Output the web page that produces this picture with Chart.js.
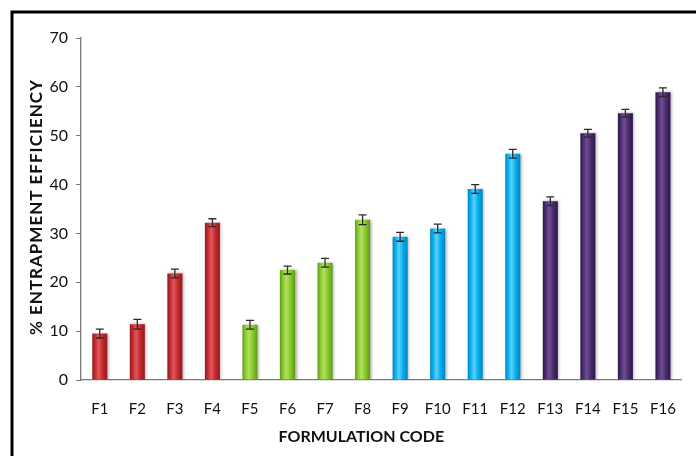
<!DOCTYPE html>
<html>
<head>
<meta charset="utf-8">
<script src="https://cdn.jsdelivr.net/npm/chart.js@4.4.1/dist/chart.umd.min.js"></script>
<style>
  html, body { margin: 0; padding: 0; background: #fff; }
  #wrap { position: relative; width: 696px; height: 456px; }
  canvas { display: block; }
</style>
</head>
<body>
<div id="wrap"><canvas id="chart" width="696" height="456"></canvas></div>
<script>
// Entrapment efficiency per formulation (mean and ± error)
const categories = ['F1','F2','F3','F4','F5','F6','F7','F8','F9','F10','F11','F12','F13','F14','F15','F16'];
const efficiency = [9.5, 11.4, 21.8, 32.2, 11.3, 22.5, 24.0, 32.8, 29.3, 31.0, 39.1, 46.3, 36.6, 50.5, 54.6, 58.9];
const errors = [0.9, 1.0, 0.9, 0.8, 0.9, 0.8, 0.9, 1.0, 0.9, 0.9, 0.9, 0.9, 0.9, 0.8, 0.8, 0.9];
const yTicks = [0, 10, 20, 30, 40, 50, 60, 70];

// Four batches of formulations, each with its own colour: [edge, body, highlight]
const groupColours = [
  ['#8e1a1d', '#c3282d', '#e0575a'],
  ['#5d9a14', '#86c82a', '#b2e063'],
  ['#0084c2', '#00aeef', '#5fd0f7'],
  ['#2a1748', '#4a2b6e', '#6e4f92']
];
const groupOf = i => Math.floor(i / 4);

const BAR_FRACTION = 0.4;
const FONT = 'Lato, "Open Sans", sans-serif';

function barFill(ctx) {
  const chart = ctx.chart;
  const c = groupColours[groupOf(ctx.dataIndex)];
  const xs = chart.scales.x;
  if (!xs || ctx.type !== 'data' || !isFinite(xs.width)) return c[1];
  const cx = xs.getPixelForValue(ctx.dataIndex);
  const w = xs.width / categories.length * BAR_FRACTION;
  const g = chart.ctx.createLinearGradient(cx - w / 2, 0, cx + w / 2, 0);
  g.addColorStop(0, c[0]);
  g.addColorStop(0.18, c[1]);
  g.addColorStop(0.42, c[2]);
  g.addColorStop(0.7, c[1]);
  g.addColorStop(1, c[0]);
  return g;
}

// White page with the black frame along the top and left edges
const framePlugin = {
  id: 'frame',
  beforeDraw(chart) {
    const g = chart.ctx;
    g.save();
    g.fillStyle = '#fff';
    g.fillRect(0, 0, chart.width, chart.height);
    g.strokeStyle = '#000';
    g.lineWidth = 3;
    g.beginPath();
    g.moveTo(12, chart.height);
    g.lineTo(12, 12);
    g.lineTo(chart.width, 12);
    g.stroke();
    g.restore();
  }
};

// Soft drop shadow under the bars
const shadowPlugin = {
  id: 'barShadow',
  beforeDatasetsDraw(chart) {
    const g = chart.ctx;
    g.save();
    g.shadowColor = 'rgba(0,0,0,0.35)';
    g.shadowBlur = 3;
    g.shadowOffsetX = 1.5;
    g.shadowOffsetY = 0;
  },
  afterDatasetsDraw(chart) {
    chart.ctx.restore();
  }
};

// Error bars with caps, drawn from the error array through the y scale
const errorBarPlugin = {
  id: 'errorBars',
  afterDatasetsDraw(chart) {
    const g = chart.ctx;
    const ys = chart.scales.y;
    const meta = chart.getDatasetMeta(0);
    g.save();
    g.strokeStyle = '#2b2b2b';
    g.lineWidth = 1.3;
    meta.data.forEach((bar, i) => {
      const x = bar.x;
      const top = ys.getPixelForValue(efficiency[i] + errors[i]);
      const bot = ys.getPixelForValue(efficiency[i] - errors[i]);
      g.beginPath();
      g.moveTo(x, top); g.lineTo(x, bot);
      g.moveTo(x - 4, top); g.lineTo(x + 4, top);
      g.moveTo(x - 4, bot); g.lineTo(x + 4, bot);
      g.stroke();
    });
    g.restore();
  }
};

// Axis titles
const titlesPlugin = {
  id: 'axisTitles',
  afterDraw(chart) {
    const g = chart.ctx;
    const a = chart.chartArea;
    g.save();
    g.fillStyle = '#111';
    g.textAlign = 'center';
    g.textBaseline = 'middle';
    g.font = 'bold 16px ' + FONT;
    g.fillText('FORMULATION CODE', (a.left + a.right) / 2 - 20, 437);
    g.translate(37, (a.top + a.bottom) / 2 - 2);
    g.rotate(-Math.PI / 2);
    g.font = 'bold 17px ' + FONT;
    g.letterSpacing = '1px';
    g.fillText('% ENTRAPMENT EFFICIENCY', 0, 0);
    g.restore();
  }
};

new Chart(document.getElementById('chart'), {
  type: 'bar',
  data: {
    labels: categories,
    datasets: [{
      data: efficiency,
      backgroundColor: barFill,
      borderWidth: 0,
      barPercentage: BAR_FRACTION,
      categoryPercentage: 1.0
    }]
  },
  options: {
    responsive: false,
    animation: false,
    devicePixelRatio: 1,
    layout: { padding: { left: 0, right: 4, top: 38, bottom: 0 } },
    plugins: { legend: { display: false }, tooltip: { enabled: false } },
    scales: {
      x: {
        grid: { display: true, drawOnChartArea: false, drawTicks: false },
        border: { display: true, color: '#7a7a7a', width: 1.3 },
        ticks: { color: '#111', font: { family: FONT, size: 15 }, padding: 20, maxRotation: 0, autoSkip: false },
        afterFit(scale) { scale.height = 76; }
      },
      y: {
        min: 0,
        max: 70,
        afterBuildTicks(scale) { scale.ticks = yTicks.map(v => ({ value: v })); },
        grid: { display: true, drawOnChartArea: false, drawTicks: true, tickLength: 5, color: '#7a7a7a' },
        border: { display: true, color: '#7a7a7a', width: 1.3 },
        ticks: { color: '#111', font: { family: FONT, size: 16 }, padding: 8 },
        afterFit(scale) { scale.width = 81; }
      }
    }
  },
  plugins: [framePlugin, shadowPlugin, errorBarPlugin, titlesPlugin]
});
</script>
</body>
</html>
